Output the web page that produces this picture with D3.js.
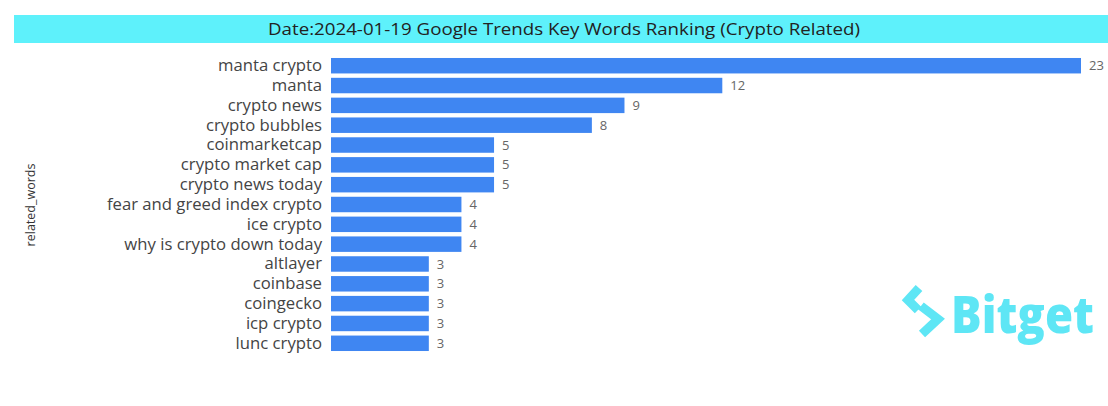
<!DOCTYPE html>
<html><head><meta charset="utf-8">
<script src="https://cdn.jsdelivr.net/npm/d3@7"></script>
<style>body{margin:0;background:#fff;}svg{display:block;}</style>
</head><body>
<script>
const categories = ["manta crypto","manta","crypto news","crypto bubbles","coinmarketcap","crypto market cap","crypto news today","fear and greed index crypto","ice crypto","why is crypto down today","altlayer","coinbase","coingecko","icp crypto","lunc crypto"];
const values = [23,12,9,8,5,5,5,4,4,4,3,3,3,3,3];
const titleText = "Date:2024-01-19 Google Trends Key Words Ranking (Crypto Related)";
const yTitle = "related_words";

const W = 1108, H = 406;
const svg = d3.select("body").append("svg").attr("width", W).attr("height", H);
const font = "'Open Sans', 'Noto Sans', sans-serif";

// title band
svg.append("rect").attr("x",14).attr("y",15).attr("width",W-14).attr("height",28).attr("fill","#5ef1fb");
svg.append("text").attr("x",564).attr("y",29).attr("dy","0.35em").attr("text-anchor","middle")
  .attr("font-family",font).attr("font-size",17).attr("fill","#222")
  .attr("textLength",592).attr("lengthAdjust","spacingAndGlyphs").text(titleText);

const x = d3.scaleLinear().domain([0,23]).range([331,1081]);
const y = d3.scaleBand().domain(categories).range([56,353]).paddingInner(0.22).paddingOuter(0.1);

// bars
svg.selectAll("rect.bar").data(values).join("rect").attr("class","bar")
  .attr("x", x(0)).attr("y",(d,i)=>y(categories[i]))
  .attr("width", d=>x(d)-x(0)).attr("height", y.bandwidth()).attr("fill","#3f86f2");

// value labels
svg.selectAll("text.val").data(values).join("text").attr("class","val")
  .attr("x", d=>x(d)+8).attr("y",(d,i)=>y(categories[i])+y.bandwidth()/2).attr("dy","0.35em")
  .attr("font-family",font).attr("font-size",13).attr("fill","#666").text(d=>d);

// y axis
const ax = svg.append("g").attr("transform",`translate(${x(0)},0)`).call(d3.axisLeft(y).tickSize(0).tickPadding(9));
ax.select(".domain").remove();
ax.selectAll("text").attr("font-family",font).attr("font-size",16.7).attr("fill","#444");

svg.append("text").attr("transform","translate(31,205) rotate(-90)").attr("dy","0.35em").attr("text-anchor","middle")
  .attr("font-family",font).attr("font-size",12.5).attr("fill","#333").text(yTitle);

// Bitget logo
const logo = svg.append("g");
logo.append("path").attr("d","M919,288 L908,300 L918,310 M921,306 L938,319 L922,334")
  .attr("fill","none").attr("stroke","#5ee6f5").attr("stroke-width",9).attr("stroke-linejoin","miter");
logo.append("text").attr("x",951).attr("y",333).attr("font-family","'Open Sans', sans-serif").attr("font-weight",800)
  .attr("font-size",52).attr("fill","#5ee6f5").attr("textLength",143).attr("lengthAdjust","spacingAndGlyphs").text("Bitget");
</script>
</body></html>
